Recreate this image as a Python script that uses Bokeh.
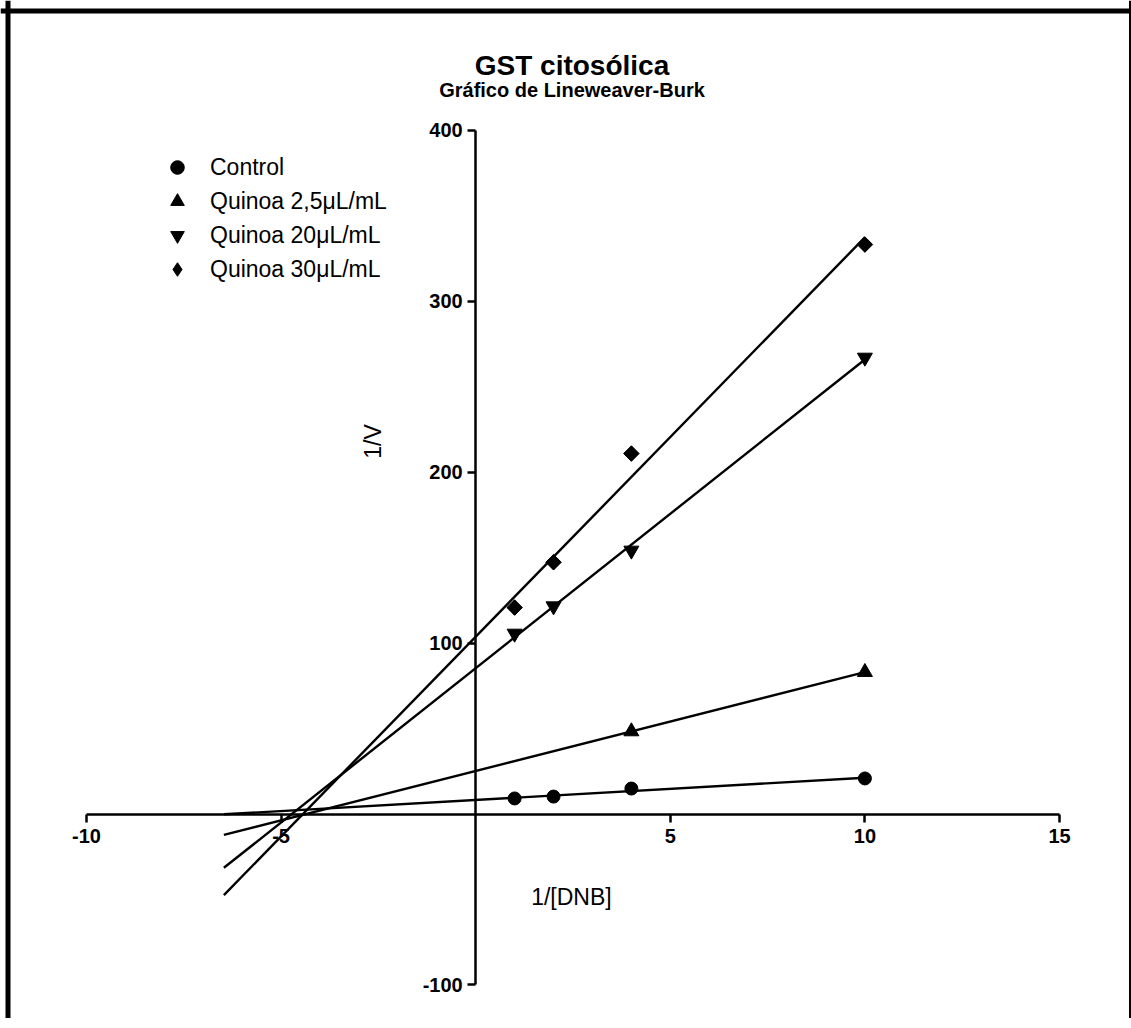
import numpy as np
from bokeh.plotting import figure
from bokeh.models import (LinearAxis, FixedTicker, Label, Legend, LegendItem, Span, Range1d,
                          CustomJSTickFormatter)
from bokeh.embed import file_html
from bokeh.resources import INLINE

# ---- data ----
x_conc = [1, 2, 4, 10]
control = [9.1, 10.2, 14.9, 20.8]
q25_x = [4, 10]
q25 = [48.3, 83.0]
q20 = [105.6, 121.6, 154.2, 267.1]
q30 = [120.8, 147.3, 210.9, 333.2]
series_names = ["Control", "Quinoa 2,5\u03bcL/mL", "Quinoa 20\u03bcL/mL", "Quinoa 30\u03bcL/mL"]
x_ticks = [-10, -5, 5, 10, 15]
y_ticks = [-100, 100, 200, 300, 400]
fit_x_start = -6.47

title_text = "GST citos\u00f3lica"
subtitle_text = "Gr\u00e1fico de Lineweaver-Burk"
x_label = "1/[DNB]"
y_label = "1/V"

FONT = "Liberation Sans"
W, H = 1131, 1018
# pixel mapping: x=0 at 475.2 px, 38.92 px/unit ; y=0 at 813.5 px, 1.709 px/unit
PX_X, X0PX = 38.92, 475.2
PX_Y, Y0PX = 1.709, 813.5
x0, x1 = (0 - X0PX) / PX_X, (W - X0PX) / PX_X
y1, y0 = (Y0PX - 0) / PX_Y, (Y0PX - H) / PX_Y

p = figure(width=W, height=H, output_backend="svg", toolbar_location=None,
           x_range=Range1d(x0, x1), y_range=Range1d(y0, y1),
           x_axis_location=None, y_axis_location=None, min_border=0)
p.outline_line_color = None
p.background_fill_color = "white"
p.border_fill_color = "white"
p.grid.grid_line_color = None

fmt = CustomJSTickFormatter(code="return tick.toString();")

# axes crossing at zero
xa = LinearAxis(fixed_location=0, bounds=(-10, 15), ticker=FixedTicker(ticks=x_ticks), formatter=fmt)
ya = LinearAxis(fixed_location=0, bounds=(-100, 400), ticker=FixedTicker(ticks=y_ticks), formatter=fmt)
for ax in (xa, ya):
    ax.axis_line_width = 2.5
    ax.axis_line_color = "black"
    ax.major_tick_line_width = 2.5
    ax.major_tick_line_color = "black"
    ax.major_tick_in = 0
    ax.major_tick_out = 8
    ax.minor_tick_line_color = None
    ax.major_label_text_font = FONT
    ax.major_label_text_font_style = "bold"
    ax.major_label_text_font_size = "20px"
    ax.major_label_text_color = "black"
xa.major_label_standoff = 7
ya.major_label_standoff = 5
p.add_layout(xa, "below")
p.add_layout(ya, "left")

# fitted lines (linear regression of each series) and points
series = [
    (x_conc, control, "circle", 13),
    (q25_x, q25, "triangle", 15),
    (x_conc, q20, "inverted_triangle", 15),
    (x_conc, q30, "diamond", 15),
]
renderers = []
for xs, ys, marker, size in series:
    slope, icpt = np.polyfit(xs, ys, 1)
    lx = [fit_x_start, max(xs)]
    ly = [icpt + slope * v for v in lx]
    p.line(lx, ly, line_color="black", line_width=2.4)
    r = p.scatter(xs, ys, marker=marker, size=size, fill_color="black", line_color="black")
    renderers.append(r)

# wider diamonds for the last series drawn as rotated squares over the key glyph
p.scatter(x_conc, q30, marker="square", size=11, angle=np.pi / 4, fill_color="black", line_color="black")

legend = Legend(items=[LegendItem(label=n, renderers=[r]) for n, r in zip(series_names, renderers)],
                location="top_left", margin=150, padding=0, spacing=0,
                glyph_width=54, glyph_height=34, label_height=34, label_standoff=6,
                label_text_font=FONT, label_text_font_size="23px", label_text_color="black",
                border_line_color=None, background_fill_alpha=0)
p.add_layout(legend)

# titles and axis labels
p.add_layout(Label(x=2.474, y=(Y0PX - 65) / PX_Y, text=title_text, text_font=FONT, text_font_style="bold",
                   text_font_size="28px", text_align="center", text_baseline="alphabetic", text_color="black"))
p.add_layout(Label(x=2.474, y=(Y0PX - 89) / PX_Y, text=subtitle_text, text_font=FONT, text_font_style="bold",
                   text_font_size="20px", text_align="center", text_baseline="alphabetic", text_color="black"))
p.add_layout(Label(x=2.46, y=(Y0PX - 896) / PX_Y, text=x_label, text_font=FONT, text_font_size="23px",
                   text_align="center", text_baseline="alphabetic", text_color="black"))
p.add_layout(Label(x=-2.65, y=218.0, text=y_label, text_font=FONT, text_font_size="23px",
                   text_align="center", text_baseline="middle", angle=np.pi / 2, text_color="black"))

# figure frame border
p.add_layout(Span(location=(7.5 - X0PX) / PX_X, dimension="height", line_color="black", line_width=5))
p.add_layout(Span(location=(Y0PX - 10.5) / PX_Y, dimension="width", line_color="black", line_width=5))
p.add_layout(Span(location=(1129.5 - X0PX) / PX_X, dimension="height", line_color="black", line_width=2))

open("out.html", "w").write(file_html(p, INLINE))
